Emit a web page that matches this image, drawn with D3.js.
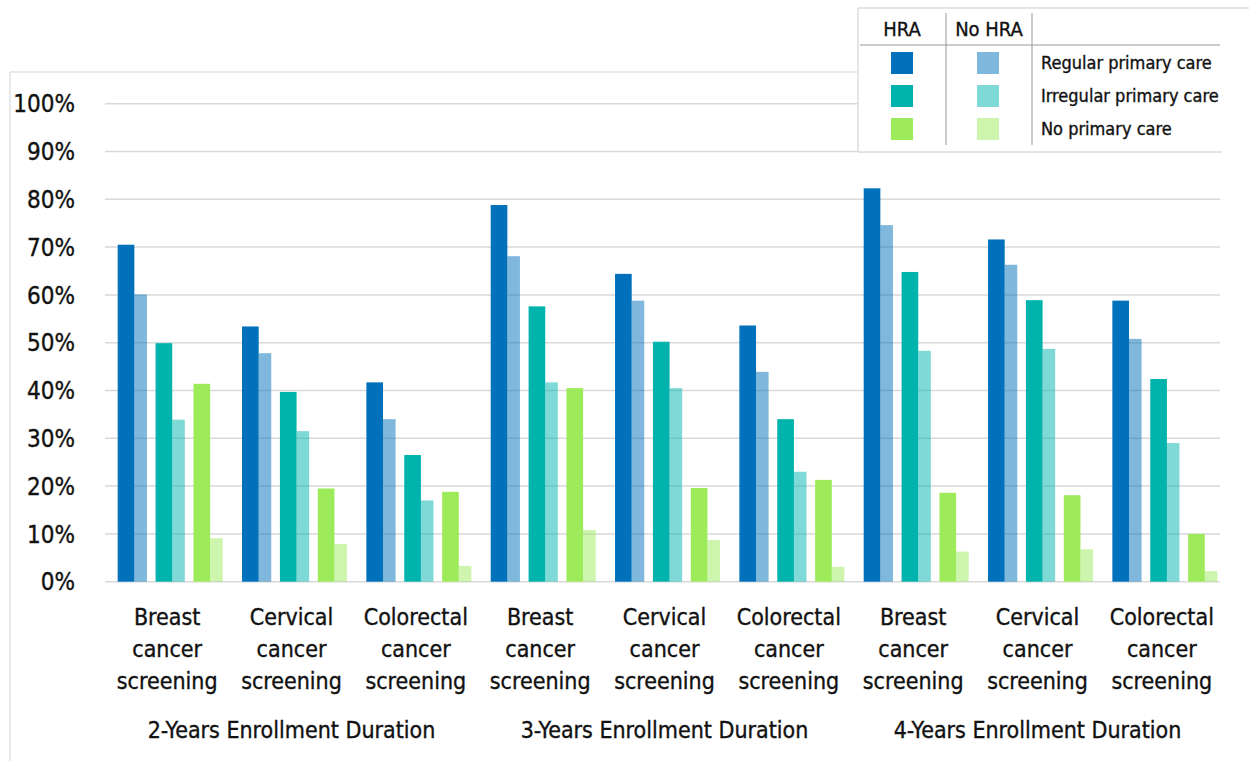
<!DOCTYPE html>
<html><head><meta charset="utf-8">
<script src="https://cdn.jsdelivr.net/npm/d3@7"></script>
<style>
body{margin:0;background:#fff;}
text{font-family:"Liberation Sans Narrow","Arial Narrow","DejaVu Sans Condensed",sans-serif;fill:#111;stroke:#111;stroke-width:0.35px;}
</style></head><body>
<svg id="c" width="1249" height="761"></svg>
<script>
const categories = ["Breast cancer screening","Cervical cancer screening","Colorectal cancer screening",
  "Breast cancer screening","Cervical cancer screening","Colorectal cancer screening",
  "Breast cancer screening","Cervical cancer screening","Colorectal cancer screening"];
const durations = ["2-Years Enrollment Duration","3-Years Enrollment Duration","4-Years Enrollment Duration"];
const careTypes = ["Regular primary care","Irregular primary care","No primary care"];
const hraRegular   = [70.5,53.4,41.7,78.8,64.4,53.6,82.3,71.6,58.8];
const noHraRegular = [60.1,47.8,34.0,68.1,58.8,43.9,74.6,66.3,50.8];
const hraIrregular   = [49.9,39.7,26.5,57.6,50.2,34.0,64.8,58.9,42.4];
const noHraIrregular = [33.9,31.5,17.0,41.7,40.5,23.0,48.3,48.7,29.0];
const hraNone   = [41.4,19.5,18.8,40.5,19.6,21.3,18.6,18.1,10.0];
const noHraNone = [9.1,7.9,3.3,10.8,8.7,3.1,6.3,6.8,2.2];
const yTicks = [0,10,20,30,40,50,60,70,80,90,100];
const colors = ["#0071BA","#00B3AD","#9DEB5B"];

const svg = d3.select("#c");
const plotL = 105, plotR = 1224, y0 = 581.7, y100 = 103.7;
const idx = d3.range(categories.length);
const x0 = d3.scaleBand().domain(idx).range([plotL, plotR]).paddingInner(0).paddingOuter(0);
const x1 = d3.scaleBand().domain(careTypes).range([12.7, 12.7 + 35*3]).paddingInner(8/35).paddingOuter(0);
const y = d3.scaleLinear().domain([0,100]).range([y0, y100]);

// frame
svg.append("line").attr("x1",10).attr("x2",10).attr("y1",72).attr("y2",761).attr("stroke","#e2e2e2").attr("stroke-width",1.5);
svg.append("line").attr("x1",10).attr("x2",860).attr("y1",72).attr("y2",72).attr("stroke","#e2e2e2").attr("stroke-width",1.5);

// gridlines
svg.append("g").selectAll("line").data(yTicks).join("line")
  .attr("x1",plotL).attr("x2",1220).attr("y1",d=>y(d)).attr("y2",d=>y(d))
  .attr("stroke","#d9d9d9").attr("stroke-width",1.5);

// y labels
svg.append("g").selectAll("text").data(yTicks).join("text")
  .attr("x",75).attr("y",d=>y(d)).attr("dy","0.36em").attr("text-anchor","end")
  .attr("font-size",24).text(d=>d+"%");

const hra = [hraRegular,hraIrregular,hraNone];
const noHra = [noHraRegular,noHraIrregular,noHraNone];
const pair = x1.bandwidth();
const wd = pair*15.5/27.2;
const g = svg.append("g");
careTypes.forEach((ct,k)=>{
  g.append("g").selectAll("rect").data(idx).join("rect")
    .attr("x",i=>x0(i)+x1(ct)).attr("width",wd)
    .attr("y",i=>y(hra[k][i])).attr("height",i=>y0-y(hra[k][i]))
    .attr("fill",colors[k]);
  g.append("g").selectAll("rect").data(idx).join("rect")
    .attr("x",i=>x0(i)+x1(ct)+wd).attr("width",pair-wd)
    .attr("y",i=>y(noHra[k][i])).attr("height",i=>y0-y(noHra[k][i]))
    .attr("fill",colors[k]).attr("fill-opacity",0.5);
});

// category labels
const cl = svg.append("g");
idx.forEach(i=>{
  const words = categories[i].split(" ");
  const t = cl.append("text").attr("text-anchor","middle").attr("font-size",23);
  words.forEach((w,j)=>t.append("tspan").attr("x",x0(i)+x0.bandwidth()/2).attr("y",625+j*32).text(w));
});
// duration labels
svg.append("g").selectAll("text").data(durations).join("text")
  .attr("x",(d,j)=>(x0(j*3)+x0(j*3+2)+x0.bandwidth())/2).attr("y",738)
  .attr("text-anchor","middle").attr("font-size",23).text(d=>d);

// legend
const L = svg.append("g");
L.append("rect").attr("x",858).attr("y",8).attr("width",364).attr("height",144).attr("fill","#fff");
L.append("line").attr("x1",858).attr("x2",1249).attr("y1",8).attr("y2",8).attr("stroke","#dcdcdc").attr("stroke-width",1.5);
L.append("line").attr("x1",858).attr("x2",858).attr("y1",8).attr("y2",152).attr("stroke","#dcdcdc").attr("stroke-width",1.5);
L.append("line").attr("x1",858).attr("x2",1222).attr("y1",152).attr("y2",152).attr("stroke","#dcdcdc").attr("stroke-width",1.5);
L.append("line").attr("x1",860).attr("x2",1220).attr("y1",45).attr("y2",45).attr("stroke","#999").attr("stroke-width",1);
[946,1032].forEach(xv=>L.append("line").attr("x1",xv).attr("x2",xv).attr("y1",13).attr("y2",145).attr("stroke","#999").attr("stroke-width",1));
L.append("text").attr("x",902).attr("y",36).attr("text-anchor","middle").attr("font-size",20).text("HRA");
L.append("text").attr("x",989).attr("y",36).attr("text-anchor","middle").attr("font-size",20).text("No HRA");
careTypes.forEach((ct,k)=>{
  const cy = 63 + k*33;
  L.append("rect").attr("x",891).attr("y",cy-11).attr("width",22).attr("height",22).attr("fill",colors[k]);
  L.append("rect").attr("x",977).attr("y",cy-11).attr("width",22).attr("height",22).attr("fill",colors[k]).attr("fill-opacity",0.5);
  L.append("text").attr("x",1041).attr("y",cy).attr("dy","0.36em").attr("font-size",18).text(ct);
});
</script></body></html>
